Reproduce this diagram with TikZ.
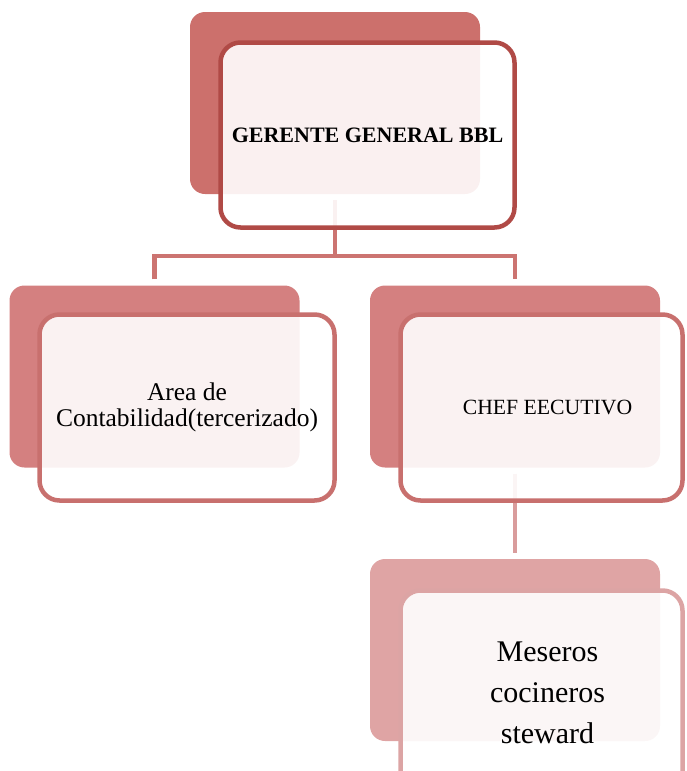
\documentclass[tikz,border=0pt]{standalone}
\usepackage{fontspec}
\setmainfont{Liberation Serif}

\definecolor{topfill}{HTML}{CC706C}
\definecolor{topline}{HTML}{B04A46}
\definecolor{midfill}{HTML}{D48080}
\definecolor{midline}{HTML}{C8706E}
\definecolor{lowfill}{HTML}{DFA4A4}
\definecolor{lowline}{HTML}{DCA4A4}
\definecolor{toplink}{HTML}{CC7471}
\definecolor{lowlink}{HTML}{D99C9C}

\tikzset{
  backbox/.style={rectangle, rounded corners=15pt, minimum width=290pt, minimum height=182pt, inner sep=0pt},
  frontbox/.style={rectangle, rounded corners=20pt, line width=4.5pt, fill=white, fill opacity=0.9, text opacity=1, inner sep=0pt, align=center, text=black},
  link/.style={line width=4.5pt}
}

\begin{document}
\begin{tikzpicture}[x=1pt,y=-1pt]
\useasboundingbox (0,0) rectangle (687,771);

% back boxes
\node[backbox,fill=topfill] (gerente back) at (335,103) {};
\node[backbox,fill=midfill] (area back) at (154.5,376.5) {};
\node[backbox,fill=midfill] (chef back) at (515,376.5) {};
\node[backbox,fill=lowfill] (staff back) at (515,650) {};

% connectors
\coordinate (bus) at (gerente back.south |- 0,256);
\draw[link,toplink,shorten <=6pt] (gerente back.south) -- (bus);
\draw[link,toplink,shorten <=6pt,shorten >=6pt] (area back.north) |- (bus) -| (chef back.north);
\draw[link,lowlink,shorten <=6pt,shorten >=6pt] (chef back.south) -- (staff back.north);

% gerente node
\node[frontbox,draw=topline,minimum width=294pt,minimum height=185pt,font=\fontsize{22}{26}\selectfont\bfseries] (gerente) at (367.5,135) {GERENTE GENERAL BBL};

% area node
\node[frontbox,draw=midline,minimum width=295pt,minimum height=186pt,font=\fontsize{25.5}{26}\selectfont] (area) at (187,407.5) {Area de\\Contabilidad(tercerizado)};

% chef node
\node[frontbox,draw=midline,minimum width=282pt,minimum height=186pt,font=\fontsize{21.7}{26}\selectfont] (chef) at (541.5,407.5) {\hspace*{12pt}CHEF EECUTIVO};

% staff node (runs off the page)
\node[frontbox,draw=lowline,minimum width=282pt,minimum height=205pt,font=\fontsize{30}{41}\selectfont] (staff) at (541.5,693) {\hspace*{12pt}Meseros\\\hspace*{12pt}cocineros\\\hspace*{12pt}steward};

\end{tikzpicture}
\end{document}
